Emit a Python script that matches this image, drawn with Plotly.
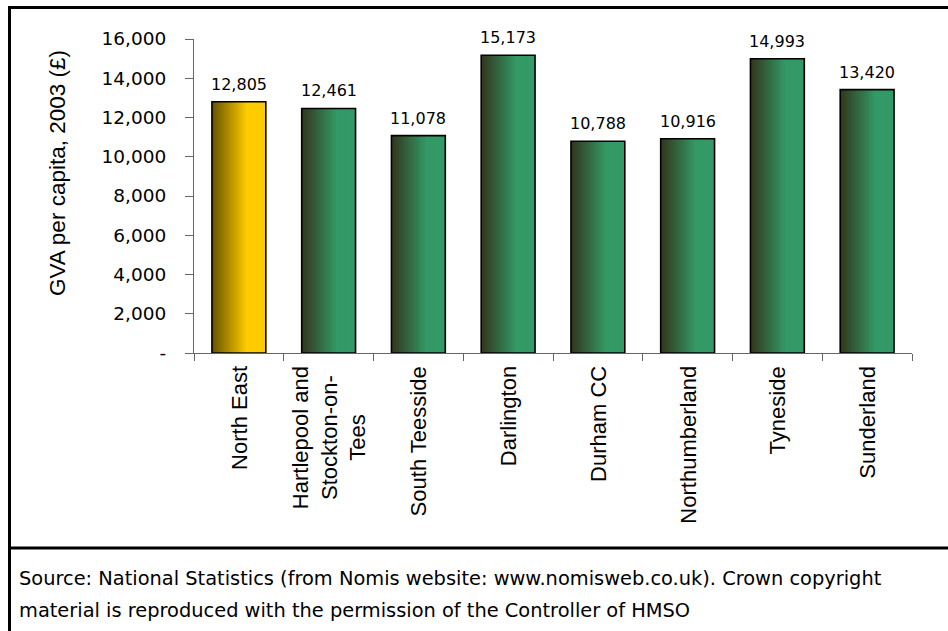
import plotly.graph_objects as go

# ---- data ----
categories = ["North East", "Hartlepool and Stockton-on-Tees", "South Teesside", "Darlington",
              "Durham CC", "Northumberland", "Tyneside", "Sunderland"]
category_labels = ["North East", "Hartlepool and<br>Stockton-on-<br>Tees", "South Teesside", "Darlington",
                   "Durham CC", "Northumberland", "Tyneside", "Sunderland"]
gva_per_capita = [12805, 12461, 11078, 15173, 10788, 10916, 14993, 13420]
y_tick_values = [0, 2000, 4000, 6000, 8000, 10000, 12000, 14000, 16000]
y_tick_labels = ["-", "2,000", "4,000", "6,000", "8,000", "10,000", "12,000", "14,000", "16,000"]
y_title = "GVA per capita, 2003 (£)"
source_line1 = "Source: National Statistics (from Nomis website: www.nomisweb.co.uk). Crown copyright"
source_line2 = "material is reproduced with the permission of the Controller of HMSO"

# ---- styling ----
W, H = 948, 631
L, R, T, B = 194, 36, 39, 278
PW, PH = W - L - R, H - T - B

def px_x(px):
    return (px - L) / PW

def px_y(py):
    return (H - B - py) / PH

bright = [(255, 204, 0)] + [(51, 153, 102)] * 7
dark = [(102, 82, 0)] + [(51, 53, 28)] * 7

BAR_W = 0.6
N = 30
fig = go.Figure()
step = BAR_W / N
for k in range(N):
    t = min(1.0, (k + 0.5) / N / 0.65)
    cols = []
    for b, d in zip(bright, dark):
        c = tuple(round(d[i] + (b[i] - d[i]) * t) for i in range(3))
        cols.append("rgb(%d,%d,%d)" % c)
    w = step * 1.6 if k < N - 1 else step
    fig.add_trace(go.Bar(
        x=categories, y=gva_per_capita, width=w, offset=-BAR_W / 2 + k * step,
        marker=dict(color=cols, line=dict(width=0)), hoverinfo="skip", showlegend=False))

fig.add_trace(go.Bar(
    x=categories, y=gva_per_capita, width=BAR_W, offset=-BAR_W / 2,
    marker=dict(color="rgba(0,0,0,0)", line=dict(color="#000000", width=1.6)),
    showlegend=False, hoverinfo="skip"))

annotations = []
for c, v in zip(categories, gva_per_capita):
    annotations.append(dict(x=c, y=v, xref="x", yref="y", text=f"{v:,}", showarrow=False,
                            yanchor="bottom", yshift=6,
                            font=dict(family="DejaVu Sans", size=16, color="#000")))
for c, lab in zip(categories, category_labels):
    annotations.append(dict(x=c, y=px_y(364), xref="x", yref="paper", text=lab, showarrow=False,
                            textangle=-90, xanchor="center", yanchor="top", align="center",
                            font=dict(family="Liberation Sans", size=22, color="#000")))
annotations.append(dict(x=px_x(57), y=px_y(173), xref="paper", yref="paper", text=y_title,
                        showarrow=False, textangle=-90, xanchor="center", yanchor="middle",
                        font=dict(family="Liberation Sans", size=22.5, color="#000")))
annotations.append(dict(x=px_x(17), y=px_y(578), xref="paper", yref="paper", text=source_line1,
                        showarrow=False, xanchor="left", yanchor="middle",
                        font=dict(family="DejaVu Sans", size=19.4, color="#000")))
annotations.append(dict(x=px_x(17), y=px_y(610), xref="paper", yref="paper", text=source_line2,
                        showarrow=False, xanchor="left", yanchor="middle",
                        font=dict(family="DejaVu Sans", size=19.4, color="#000")))

shapes = [
    dict(type="line", xref="paper", yref="paper", x0=px_x(9.5), x1=px_x(9.5), y0=px_y(6), y1=px_y(640),
         line=dict(color="#000", width=3)),
    dict(type="line", xref="paper", yref="paper", x0=px_x(8), x1=px_x(960), y0=px_y(7.5), y1=px_y(7.5),
         line=dict(color="#000", width=3)),
    dict(type="line", xref="paper", yref="paper", x0=px_x(8), x1=px_x(960), y0=px_y(548), y1=px_y(548),
         line=dict(color="#000", width=3)),
]

fig.update_layout(
    width=W, height=H, margin=dict(l=L, r=R, t=T, b=B),
    paper_bgcolor="white", plot_bgcolor="white",
    barmode="overlay", showlegend=False,
    annotations=annotations, shapes=shapes,
    xaxis=dict(type="category", range=[-0.5, 7.5], showline=True, linecolor="#666", linewidth=1,
               ticks="outside", tickson="boundaries", ticklen=7, tickcolor="#666",
               showticklabels=False, showgrid=False, zeroline=False, fixedrange=True),
    yaxis=dict(range=[0, 16000], tickvals=y_tick_values, ticktext=y_tick_labels,
               showline=True, linecolor="#666", linewidth=1, ticks="outside", ticklen=8,
               tickcolor="#666", ticklabelstandoff=15, showgrid=False, zeroline=False,
               tickfont=dict(family="DejaVu Sans", size=18.5, color="#000"), fixedrange=True),
)
fig.write_html("out.html")
